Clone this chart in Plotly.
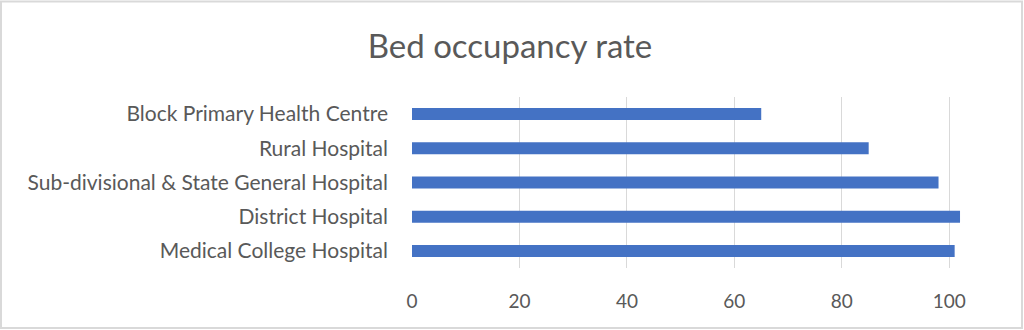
import plotly.graph_objects as go

categories = ["Medical College Hospital", "District Hospital",
              "Sub-divisional & State General Hospital", "Rural Hospital",
              "Block Primary Health Centre"]
values = [101, 102, 98, 85, 65]
tick_vals = [0, 20, 40, 60, 80, 100]

W, H = 1024, 330
ml, mr, mt, mb = 412, 21, 97, 62
FONT = "Lato"
TXT = "#595959"

fig = go.Figure(go.Bar(
    x=values, y=categories, orientation="h",
    marker=dict(color="#4472C4", line=dict(width=0)),
    width=0.35,
))

pw = W - ml - mr
ph = H - mt - mb
fig.update_layout(
    width=W, height=H,
    margin=dict(l=ml, r=mr, t=mt, b=mb, autoexpand=False),
    paper_bgcolor="white", plot_bgcolor="white",
    title=dict(text="Bed occupancy rate", x=510 / W, xref="container", xanchor="center",
               y=1 - 46 / H, yanchor="middle",
               font=dict(family=FONT, size=33, color=TXT)),
    font=dict(family=FONT, color=TXT),
    xaxis=dict(range=[0, 110], tickvals=tick_vals, showgrid=True,
               gridcolor="#D9D9D9", gridwidth=1, zeroline=False,
               showline=False, ticks="", automargin=False,
               ticklabelstandoff=20,
               tickfont=dict(family=FONT, size=19, color=TXT)),
    yaxis=dict(showgrid=False, zeroline=False, showline=False, ticks="",
               automargin=False, ticklabelstandoff=23,
               tickfont=dict(family=FONT, size=21, color=TXT)),
    showlegend=False,
    shapes=[dict(type="rect", xref="paper", yref="paper",
                 x0=(1 - ml) / pw, x1=(W - 2 - ml) / pw,
                 y0=-(mb - 2) / ph, y1=1 + (mt - 1.5) / ph,
                 line=dict(color="#D9D9D9", width=2), fillcolor="rgba(0,0,0,0)")],
)

fig.write_html("out.html")
